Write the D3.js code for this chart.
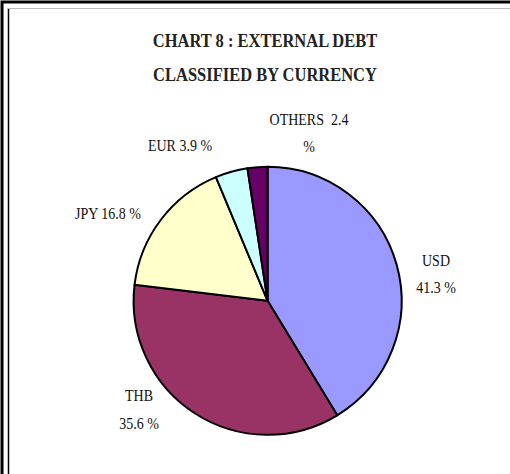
<!DOCTYPE html>
<html><head><meta charset="utf-8">
<script src="https://cdn.jsdelivr.net/npm/d3@7"></script>
<style>html,body{margin:0;padding:0;background:#fff;overflow:hidden}</style>
</head><body>
<svg id="c" width="510" height="474"></svg>
<script>
const categories = ["USD", "THB", "JPY", "EUR", "OTHERS"];
const values = [41.3, 35.6, 16.8, 3.9, 2.4];
const titleLines = ["CHART 8 : EXTERNAL DEBT", "CLASSIFIED BY CURRENCY"];

const colors = ["#9999FF", "#993366", "#FFFFCC", "#CCFFFF", "#660066"];
const labelLayout = [
  {x: 436, y: [266, 293], lines: d => [d.cat, d.val.toFixed(1) + " %"]},
  {x: 139, y: [401, 429], lines: d => [d.cat, d.val.toFixed(1) + " %"]},
  {x: 108, y: [219], lines: d => [d.cat + " " + d.val.toFixed(1) + " %"]},
  {x: 180, y: [151], lines: d => [d.cat + " " + d.val.toFixed(1) + " %"]},
  {x: 309, y: [125, 152], lines: d => [d.cat + "\u00A0 " + d.val.toFixed(1), "%"]}
];

const svg = d3.select("#c");
svg.append("rect").attr("x", 2).attr("y", 2).attr("width", 530).attr("height", 500)
  .attr("fill", "none").attr("stroke", "#000").attr("stroke-width", 3);
svg.append("line").attr("x1", 8.5).attr("x2", 8.5).attr("y1", 8).attr("y2", 474)
  .attr("stroke", "#000").attr("stroke-width", 1.5);
svg.append("line").attr("x1", 8).attr("x2", 510).attr("y1", 8.5).attr("y2", 8.5)
  .attr("stroke", "#bbb").attr("stroke-width", 1);

const serif = "'Liberation Serif','Times New Roman',serif";
svg.selectAll("text.title").data(titleLines).join("text")
  .attr("class", "title")
  .attr("transform", (d, i) => `translate(265,${[47, 81][i]}) scale(1,1.1)`)
  .attr("text-anchor", "middle")
  .attr("font-family", serif).attr("font-weight", "bold").attr("font-size", 16.5)
  .attr("fill", "#222")
  .text(d => d);

const cx = 267.6, cy = 300.8, r = 134;
const data = categories.map((c, i) => ({cat: c, val: values[i]}));
const pie = d3.pie().sort(null).value(d => d.val);
const arc = d3.arc().innerRadius(0).outerRadius(r);
const g = svg.append("g").attr("transform", `translate(${cx},${cy})`);
g.selectAll("path").data(pie(data)).join("path")
  .attr("d", arc)
  .attr("fill", (d, i) => colors[i])
  .attr("stroke", "#000").attr("stroke-width", 2).attr("stroke-linejoin", "round");

data.forEach((d, i) => {
  const L = labelLayout[i];
  L.lines(d).forEach((t, j) => {
    svg.append("text")
      .attr("transform", `translate(${L.x},${L.y[j]}) scale(1,1.12)`)
      .attr("text-anchor", "middle")
      .attr("font-family", serif).attr("font-size", 14)
      .attr("fill", "#111")
      .text(t);
  });
});
</script>
</body></html>
